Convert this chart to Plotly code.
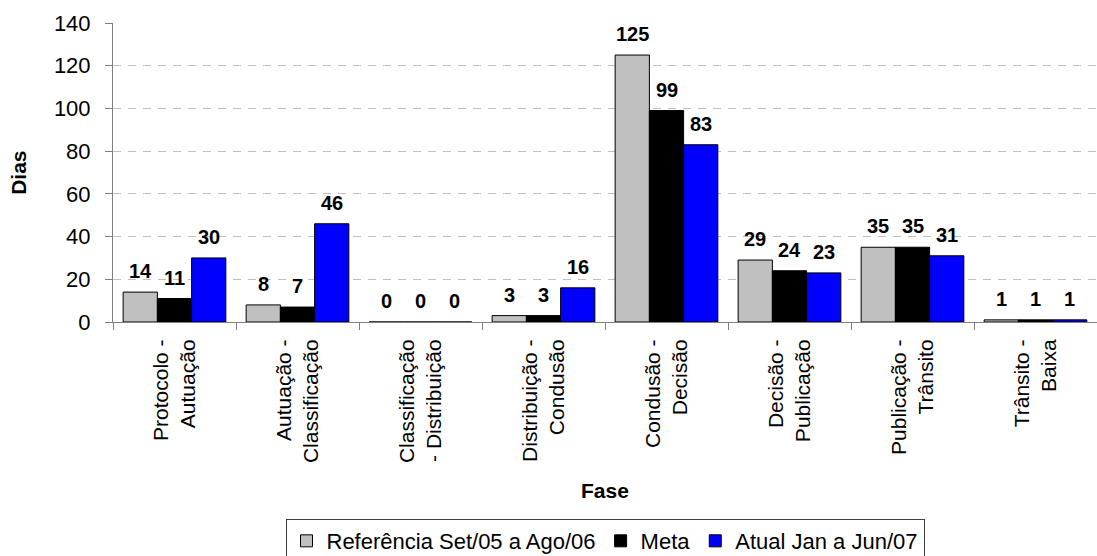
import plotly.graph_objects as go

# Phase transitions (two-line labels, drawn rotated under the axis)
fases = [
    "Protocolo -<br>Autuação",
    "Autuação -<br>Classificação",
    "Classificação<br>- Distribuição",
    "Distribuição -<br>Condusão",
    "Condusão -<br>Decisão",
    "Decisão -<br>Publicação",
    "Publicação -<br>Trânsito",
    "Trânsito -<br>Baixa",
]

# Days spent in each phase
referencia = [14, 8, 0, 3, 125, 29, 35, 1]
meta = [11, 7, 0, 3, 99, 24, 35, 1]
atual = [30, 46, 0, 16, 83, 23, 31, 1]

series_names = ["Referência Set/05 a Ago/06", "Meta", "Atual Jan a Jun/07"]
series_values = [referencia, meta, atual]
series_colors = ["#c0c0c0", "#000000", "#0000ff"]

y_ticks = [0, 20, 40, 60, 80, 100, 120, 140]

FONT = "Liberation Sans, Arial, sans-serif"
BAR_GAP = 0.165

fig = go.Figure()
for name, vals, color in zip(series_names, series_values, series_colors):
    fig.add_trace(go.Bar(
        x=fases, y=vals, name=name,
        marker=dict(color=color, line=dict(color="#000000", width=1)),
    ))

# Bold value labels above every bar
bar_w = (1 - BAR_GAP) / len(series_values)
annotations = []
for j, vals in enumerate(series_values):
    offset = (j - (len(series_values) - 1) / 2) * bar_w
    for i, v in enumerate(vals):
        annotations.append(dict(
            x=i + offset, y=v, xref="x", yref="y",
            text=f"<b>{v}</b>", showarrow=False,
            yanchor="bottom", yshift=8,
            font=dict(family=FONT, size=20, color="#000000"),
        ))

# Axis titles
annotations.append(dict(
    x=0.5, y=-0.562, xref="paper", yref="paper", text="<b>Fase</b>",
    showarrow=False, xanchor="center", yanchor="middle",
    font=dict(family=FONT, size=21, color="#000000"),
))
annotations.append(dict(
    x=-0.0962, y=0.5, xref="paper", yref="paper", text="<b>Dias</b>",
    showarrow=False, textangle=-90, xanchor="center", yanchor="middle",
    font=dict(family=FONT, size=21, color="#000000"),
))

fig.update_layout(
    width=1097, height=556,
    margin=dict(l=113, r=0, t=23, b=234, autoexpand=False),
    paper_bgcolor="#ffffff", plot_bgcolor="#ffffff",
    barmode="group", bargap=BAR_GAP, bargroupgap=0,
    font=dict(family=FONT, size=21, color="#000000"),
    annotations=annotations,
    showlegend=True,
    legend=dict(
        orientation="h", x=0.5, xanchor="center", y=-0.659, yanchor="top",
        bordercolor="#404040", borderwidth=1, bgcolor="#ffffff",
        font=dict(family=FONT, size=22, color="#000000"),
        itemwidth=30, tracegroupgap=0,
    ),
    xaxis=dict(
        type="category", tickangle=-90, tickson="boundaries",
        ticks="outside", ticklen=7, tickcolor="#808080",
        showline=True, linecolor="#808080", linewidth=1,
        showgrid=False, ticklabelstandoff=8,
        tickfont=dict(family=FONT, size=21, color="#000000"),
        automargin=False,
    ),
    yaxis=dict(
        range=[0, 140], tickvals=y_ticks,
        ticks="outside", ticklen=7, tickcolor="#808080",
        showline=True, linecolor="#808080", linewidth=1,
        showgrid=True, gridcolor="#c0c0c0", griddash="8px,7px", gridwidth=1,
        zeroline=False, ticklabelstandoff=10,
        tickfont=dict(family=FONT, size=22, color="#000000"),
        automargin=False,
    ),
)

fig.write_html("out.html")
